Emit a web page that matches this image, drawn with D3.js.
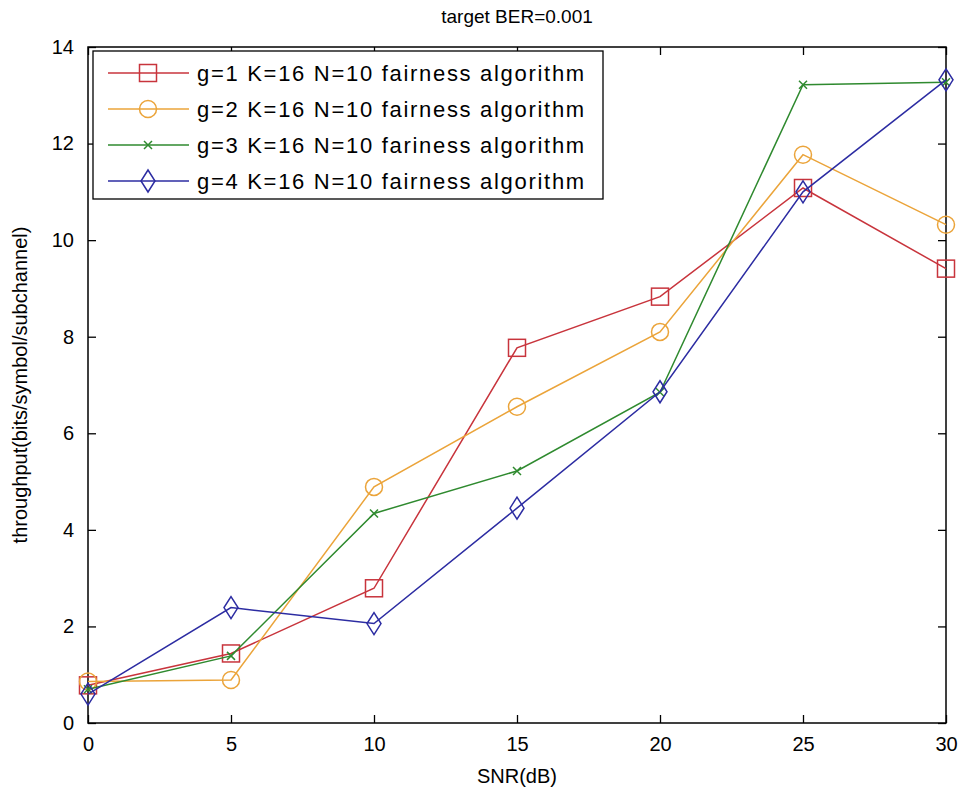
<!DOCTYPE html>
<html>
<head>
<meta charset="utf-8">
<script src="https://cdn.jsdelivr.net/npm/d3@7"></script>
<style>
  body { margin: 0; background: #fff; }
  text { font-family: "Liberation Sans", Arial, sans-serif; fill: #000; }
</style>
</head>
<body>
<div id="chart"></div>
<script>
var width = 963,
    height = 798;

// data
var snr = [0, 5, 10, 15, 20, 25, 30];
var g1 = [0.78, 1.44, 2.79, 7.77, 8.83, 11.08, 9.41];
var g2 = [0.86, 0.89, 4.89, 6.55, 8.10, 11.77, 10.32];
var g3 = [0.70, 1.39, 4.34, 5.22, 6.85, 13.22, 13.27];
var g4 = [0.60, 2.39, 2.06, 4.45, 6.86, 11.00, 13.32];
var seriesNames = ["g=1 K=16 N=10 fairness algorithm",
                   "g=2 K=16 N=10 fairness algorithm",
                   "g=3 K=16 N=10 fariness algorithm",
                   "g=4 K=16 N=10 fairness algorithm"];
var xTicks = [0, 5, 10, 15, 20, 25, 30];
var yTicks = [0, 2, 4, 6, 8, 10, 12, 14];

var colors = ["#c8343c", "#eba43a", "#2f8a2f", "#2c2ca2"];
var markers = ["square", "circle", "cross", "diamond"];

var series = [g1, g2, g3, g4].map(function(vals, i) {
  return { name: seriesNames[i], color: colors[i], marker: markers[i],
           values: vals.map(function(v, j) { return { x: snr[j], y: v }; }) };
});

var margin = { left: 88, right: 17, top: 47, bottom: 75 };
var pw = width - margin.left - margin.right,
    ph = height - margin.top - margin.bottom;

var svg = d3.select("#chart")
  .append("svg")
  .attr("width", width)
  .attr("height", height);

var g = svg.append("g")
  .attr("transform", "translate(" + margin.left + "," + margin.top + ")");

var x = d3.scaleLinear().domain([0, 30]).range([0, pw]);
var y = d3.scaleLinear().domain([0, 14]).range([ph, 0]);

// axes, ticks inward on all sides
function styleAxis(sel) {
  sel.select(".domain").remove();
  sel.selectAll(".tick line").attr("stroke", "#000").attr("stroke-width", 1.3);
  sel.selectAll(".tick text").attr("font-size", "20px").attr("fill", "#000");
}

g.append("g")
  .attr("transform", "translate(0," + ph + ")")
  .call(d3.axisBottom(x).tickValues(xTicks).tickSizeInner(-8).tickSizeOuter(0).tickPadding(14))
  .call(styleAxis);
g.append("g")
  .call(d3.axisTop(x).tickValues(xTicks).tickSizeInner(-8).tickSizeOuter(0).tickFormat(""))
  .call(styleAxis);
g.append("g")
  .call(d3.axisLeft(y).tickValues(yTicks).tickSizeInner(-8).tickSizeOuter(0).tickPadding(14))
  .call(styleAxis);
g.append("g")
  .attr("transform", "translate(" + pw + ",0)")
  .call(d3.axisRight(y).tickValues(yTicks).tickSizeInner(-8).tickSizeOuter(0).tickFormat(""))
  .call(styleAxis);

g.append("rect")
  .attr("width", pw)
  .attr("height", ph)
  .attr("fill", "none")
  .attr("stroke", "#000")
  .attr("stroke-width", 1.5);

// lines
var line = d3.line()
  .x(function(d) { return x(d.x); })
  .y(function(d) { return y(d.y); });

function drawMarker(sel, type, color) {
  if (type === "square") {
    sel.append("rect").attr("x", -8.5).attr("y", -8.5).attr("width", 17).attr("height", 17)
      .attr("fill", "none").attr("stroke", color).attr("stroke-width", 1.5);
  } else if (type === "circle") {
    sel.append("circle").attr("r", 8.5)
      .attr("fill", "none").attr("stroke", color).attr("stroke-width", 1.5);
  } else if (type === "cross") {
    sel.append("path").attr("d", "M-4,-4L4,4M-4,4L4,-4")
      .attr("fill", "none").attr("stroke", color).attr("stroke-width", 1.5);
  } else if (type === "diamond") {
    sel.append("path").attr("d", "M0,-11L7,0L0,11L-7,0Z")
      .attr("fill", "none").attr("stroke", color).attr("stroke-width", 1.5);
  }
}

series.forEach(function(s) {
  g.append("path")
    .datum(s.values)
    .attr("d", line)
    .attr("fill", "none")
    .attr("stroke", s.color)
    .attr("stroke-width", 1.5);

  g.selectAll(null)
    .data(s.values)
    .enter()
    .append("g")
    .attr("transform", function(d) { return "translate(" + x(d.x) + "," + y(d.y) + ")"; })
    .each(function() { drawMarker(d3.select(this), s.marker, s.color); });
});

// legend
var legend = g.append("g").attr("transform", "translate(5,4)");
legend.append("rect")
  .attr("width", 510)
  .attr("height", 148)
  .attr("fill", "#fff")
  .attr("stroke", "#000")
  .attr("stroke-width", 1.3);

var rows = legend.selectAll(".row")
  .data(series)
  .enter()
  .append("g")
  .attr("class", "row")
  .attr("transform", function(d, i) { return "translate(0," + (22 + i * 36) + ")"; });

rows.append("line")
  .attr("x1", 15).attr("x2", 96)
  .attr("stroke", function(d) { return d.color; })
  .attr("stroke-width", 1.5);
rows.each(function(d) {
  drawMarker(d3.select(this).append("g").attr("transform", "translate(55,0)"), d.marker, d.color);
});
rows.append("text")
  .attr("x", 104)
  .attr("dy", "0.35em")
  .attr("font-size", "22px")
  .attr("letter-spacing", "1.7px")
  .text(function(d) { return d.name; });

// titles
svg.append("text")
  .attr("x", margin.left + pw / 2)
  .attr("y", 23)
  .attr("text-anchor", "middle")
  .attr("font-size", "19px")
  .text("target BER=0.001");

svg.append("text")
  .attr("x", margin.left + pw / 2)
  .attr("y", 783)
  .attr("text-anchor", "middle")
  .attr("font-size", "20px")
  .text("SNR(dB)");

svg.append("text")
  .attr("transform", "translate(27," + (margin.top + ph / 2) + ") rotate(-90)")
  .attr("text-anchor", "middle")
  .attr("font-size", "20px")
  .text("throughput(bits/symbol/subchannel)");
</script>
</body>
</html>
